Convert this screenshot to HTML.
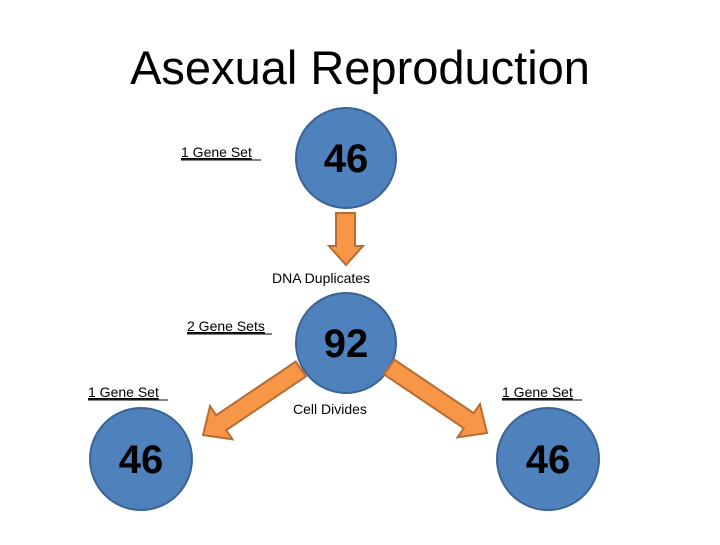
<!DOCTYPE html>
<html><head><style>
body{margin:0;width:720px;height:540px;background:#fff;overflow:hidden;font-family:"Liberation Sans",sans-serif}
</style></head><body>
<svg width="720" height="540" xmlns="http://www.w3.org/2000/svg" font-family="Liberation Sans, sans-serif">
<text x="360" y="84" text-anchor="middle" font-size="47" fill="#000">Asexual Reproduction</text>
<g fill="#4f81bd" stroke="#3a6496" stroke-width="2">
<circle cx="346" cy="158" r="50"/>
<circle cx="346" cy="343" r="50"/>
<circle cx="141" cy="459" r="51"/>
<circle cx="548" cy="459" r="51"/>
</g>
<g fill="#f79646" stroke="#b66d31" stroke-width="2">
<polygon points="336,213 355,213 355,246 363,246 346,265 329,246 336,246"/>
<g transform="translate(203,435) rotate(-34)">
<polygon points="0,0 22,-20 22,-9 118,-9 118,9 22,9 22,20"/>
</g>
<g transform="translate(487,433) rotate(-146)">
<polygon points="0,0 22,-20 22,-9 118,-9 118,9 22,9 22,20"/>
</g>
</g>
<g font-weight="bold" font-size="40" text-anchor="middle" fill="#000">
<text x="346" y="172">46</text>
<text x="346" y="357">92</text>
<text x="141" y="473">46</text>
<text x="548" y="473">46</text>
</g>
<g font-size="14" fill="#000">
<text x="181" y="157" text-decoration="underline">1 Gene Set</text>
<text x="187" y="331" text-decoration="underline">2 Gene Sets</text>
<text x="88" y="397" text-decoration="underline">1 Gene Set</text>
<text x="502" y="397" text-decoration="underline">1 Gene Set</text>
<text x="272" y="283">DNA Duplicates</text>
<text x="293" y="414">Cell Divides</text>
</g>
<g stroke="#000" stroke-width="1">
<line x1="181" y1="160" x2="261" y2="160"/>
<line x1="187" y1="334" x2="272" y2="334"/>
<line x1="88" y1="400" x2="168" y2="400"/>
<line x1="502" y1="400" x2="582" y2="400"/>
</g>
</svg>
</body></html>
